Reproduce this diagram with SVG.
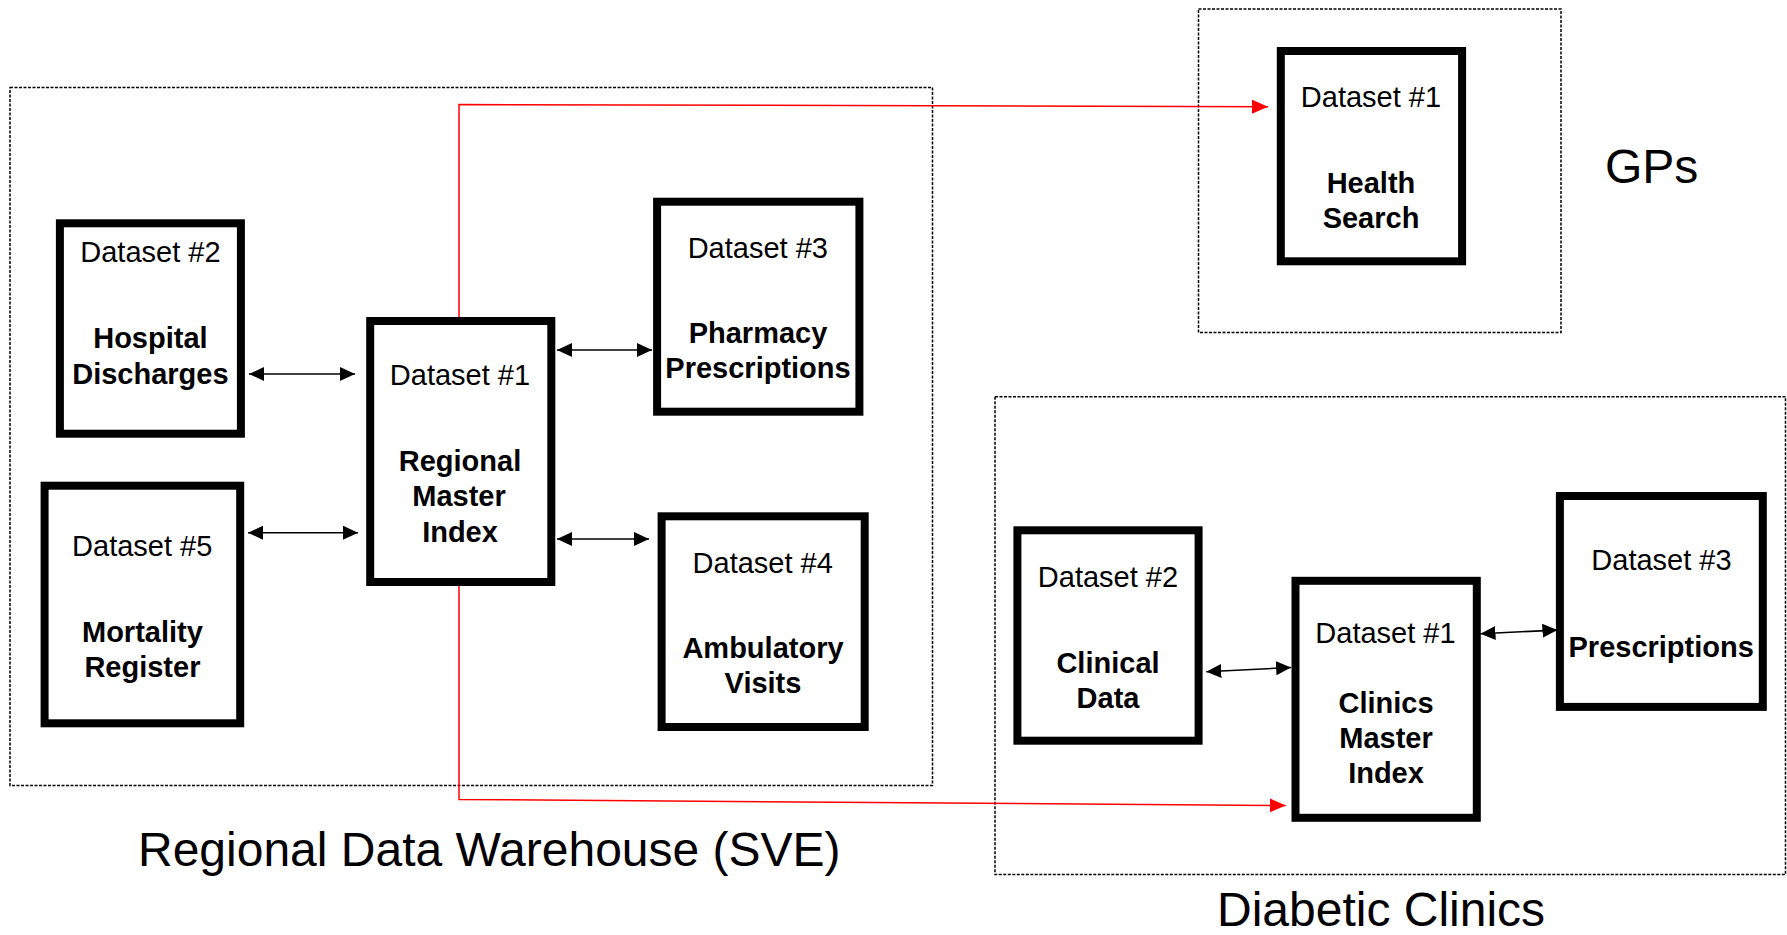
<svg xmlns="http://www.w3.org/2000/svg" width="1787" height="935" viewBox="0 0 1787 935">
<style>
.bg{fill:#fff}
.cont{fill:none;stroke:#000;stroke-width:1.5;stroke-dasharray:3 1.5}
.box{fill:#fff;stroke:#000;stroke-width:8}
.ds{font-family:"Liberation Sans",Arial,sans-serif;font-size:29px;text-anchor:middle;fill:#000}
.nm{font-family:"Liberation Sans",Arial,sans-serif;font-size:29px;font-weight:bold;text-anchor:middle;fill:#000}
.lbl{font-family:"Liberation Sans",Arial,sans-serif;font-size:48px;fill:#000}
.blk{fill:none;stroke:#000;stroke-width:1.6;marker-start:url(#ah);marker-end:url(#ah)}
.red{fill:none;stroke:#ff0000;stroke-width:1.5;marker-end:url(#rh)}
</style>
<defs>
<marker id="ah" markerUnits="userSpaceOnUse" markerWidth="15" markerHeight="14" refX="15" refY="7" orient="auto-start-reverse"><path d="M0,0 L15,7 L0,14 Z" fill="#000"/></marker>
<marker id="rh" markerUnits="userSpaceOnUse" markerWidth="16" markerHeight="14" refX="16" refY="7" orient="auto"><path d="M0,0 L16,7 L0,14 Z" fill="#ff0000"/></marker>
</defs>
<rect class="bg" x="0" y="0" width="1787" height="935"/>
<g id="containers">
<rect id="sve" class="cont" x="10" y="87.5" width="922.5" height="698"/>
<rect id="gps" class="cont" x="1198.5" y="9" width="362.5" height="323.5"/>
<rect id="diabetic" class="cont" x="995" y="396.7" width="790.5" height="477.8"/>
</g>
<g id="connectors">
<line class="blk" x1="249" y1="374" x2="355" y2="374"/>
<line class="blk" x1="248" y1="532.7" x2="358" y2="532.7"/>
<line class="blk" x1="557" y1="350" x2="652" y2="350"/>
<line class="blk" x1="557" y1="539" x2="649" y2="539"/>
<line class="blk" x1="1206.3" y1="671.8" x2="1291.1" y2="667.5"/>
<line class="blk" x1="1480.5" y1="633.7" x2="1557.4" y2="630.1"/>
<polyline class="red" points="459,321 459,104.5 1268,106.7"/>
<polyline class="red" points="459,582 459,799.5 1285.7,805.5"/>
</g>
<g id="hospital">
<rect class="box" x="59.9" y="223.3" width="181" height="210.4"/>
<text class="ds" x="150.4" y="261.7">Dataset #2</text>
<text class="nm" x="150.4" y="348.3">Hospital</text>
<text class="nm" x="150.4" y="384">Discharges</text>
</g>
<g id="mortality">
<rect class="box" x="44.6" y="485.7" width="195.6" height="237.6"/>
<text class="ds" x="142.2" y="556">Dataset #5</text>
<text class="nm" x="142.4" y="642">Mortality</text>
<text class="nm" x="142.4" y="677.3">Register</text>
</g>
<g id="rmi">
<rect class="box" x="370.2" y="321" width="181.1" height="261"/>
<text class="ds" x="460" y="385">Dataset #1</text>
<text class="nm" x="460" y="470.7">Regional</text>
<text class="nm" x="459" y="506">Master</text>
<text class="nm" x="460" y="541.7">Index</text>
</g>
<g id="pharmacy">
<rect class="box" x="657.1" y="201.7" width="202.3" height="210"/>
<text class="ds" x="757.8" y="257.7">Dataset #3</text>
<text class="nm" x="758" y="343.3">Pharmacy</text>
<text class="nm" x="758" y="377.7">Prescriptions</text>
</g>
<g id="ambulatory">
<rect class="box" x="661.6" y="516.3" width="203.1" height="210.7"/>
<text class="ds" x="762.7" y="572.7">Dataset #4</text>
<text class="nm" x="763" y="658.3">Ambulatory</text>
<text class="nm" x="763" y="693.3">Visits</text>
</g>
<g id="health">
<rect class="box" x="1280.8" y="51" width="181.3" height="210.3"/>
<text class="ds" x="1371" y="107.3">Dataset #1</text>
<text class="nm" x="1371" y="193.3">Health</text>
<text class="nm" x="1371" y="228.3">Search</text>
</g>
<g id="clinical">
<rect class="box" x="1017.4" y="530.3" width="181.2" height="210.4"/>
<text class="ds" x="1108" y="586.7">Dataset #2</text>
<text class="nm" x="1108" y="672.7">Clinical</text>
<text class="nm" x="1108" y="707.7">Data</text>
</g>
<g id="cmi">
<rect class="box" x="1295.5" y="580.8" width="181.3" height="237"/>
<text class="ds" x="1385.5" y="642.6">Dataset #1</text>
<text class="nm" x="1386" y="712.7">Clinics</text>
<text class="nm" x="1386" y="747.5">Master</text>
<text class="nm" x="1386" y="783">Index</text>
</g>
<g id="prescriptions">
<rect class="box" x="1559.9" y="496" width="202.9" height="210.9"/>
<text class="ds" x="1661.5" y="570.4">Dataset #3</text>
<text class="nm" x="1661.2" y="656.5">Prescriptions</text>
</g>
<g id="labels">
<text class="lbl" x="138" y="866">Regional Data Warehouse (SVE)</text>
<text class="lbl" x="1605" y="182.7">GPs</text>
<text class="lbl" x="1217" y="926">Diabetic Clinics</text>
</g>
</svg>
